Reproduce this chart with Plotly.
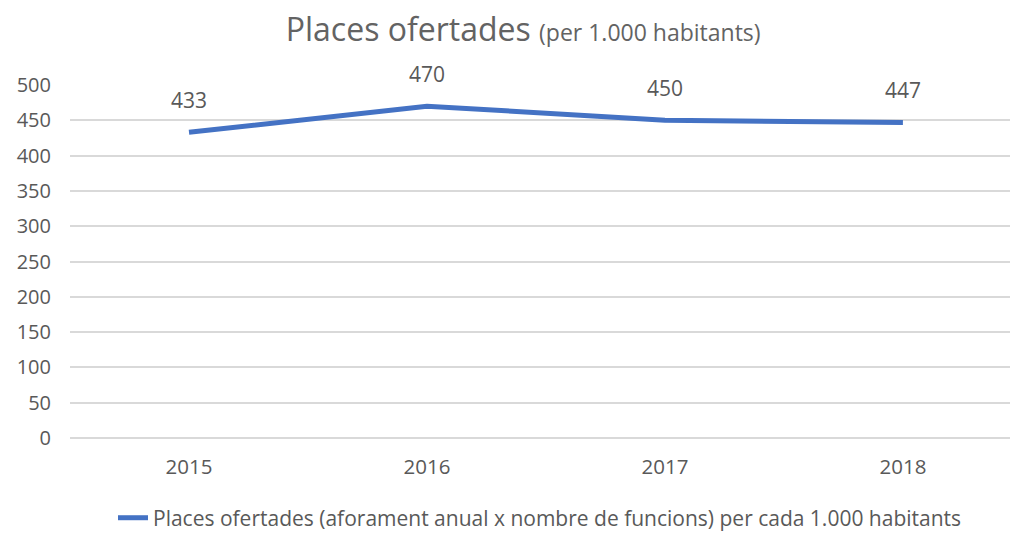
import plotly.graph_objects as go

years = ["2015", "2016", "2017", "2018"]
places = [433, 470, 450, 447]
y_ticks = [0, 50, 100, 150, 200, 250, 300, 350, 400, 450, 500]

SERIES_NAME = "Places ofertades (aforament anual x nombre de funcions) per cada 1.000 habitants"
LINE_COLOR = "#4472C4"
TEXT_COLOR = "#595959"
FONT = "Open Sans, Noto Sans, sans-serif"

fig = go.Figure()
fig.add_trace(
    go.Scatter(
        x=years,
        y=places,
        mode="lines",
        name=SERIES_NAME,
        line=dict(color=LINE_COLOR, width=5),
        cliponaxis=False,
        hoverinfo="skip",
    )
)

# data labels above each point (category axis -> use the category index)
for idx, value in enumerate(places):
    fig.add_annotation(
        x=idx,
        y=value,
        xref="x",
        yref="y",
        text=str(value),
        showarrow=False,
        yshift=32,
        font=dict(family=FONT, size=21, color=TEXT_COLOR),
    )

fig.update_layout(
    width=1010,
    height=533,
    paper_bgcolor="white",
    plot_bgcolor="white",
    font=dict(family=FONT, color=TEXT_COLOR, size=20),
    title=dict(
        text="Places ofertades <span style='font-size:23px'>(per 1.000 habitants)</span>",
        x=0.518,
        xanchor="center",
        y=0.945,
        yanchor="middle",
        font=dict(family=FONT, size=32, color="#636363"),
    ),
    margin=dict(l=70, r=0, t=85, b=95),
    showlegend=True,
    legend=dict(
        orientation="h",
        x=0.50,
        xanchor="center",
        yref="container",
        y=0.028,
        yanchor="middle",
        font=dict(family=FONT, size=21, color=TEXT_COLOR),
    ),
    xaxis=dict(
        type="category",
        range=[-0.5, 3.45],
        automargin=False,
        showgrid=False,
        showline=False,
        zeroline=False,
        ticks="",
        ticklabelstandoff=14,
        tickfont=dict(size=20.5, color=TEXT_COLOR),
    ),
    yaxis=dict(
        range=[0, 500],
        tickvals=y_ticks,
        automargin=False,
        showgrid=True,
        gridcolor="#D9D9D9",
        gridwidth=1.5,
        zeroline=True,
        zerolinecolor="#D9D9D9",
        zerolinewidth=1.5,
        showline=False,
        ticks="outside",
        ticklen=14,
        tickcolor="white",
        tickfont=dict(size=20, color=TEXT_COLOR),
    ),
)

fig.write_html(
    "out.html",
    config={"displayModeBar": False},
    post_script="document.body.style.margin='0';document.body.style.overflow='hidden';",
)
